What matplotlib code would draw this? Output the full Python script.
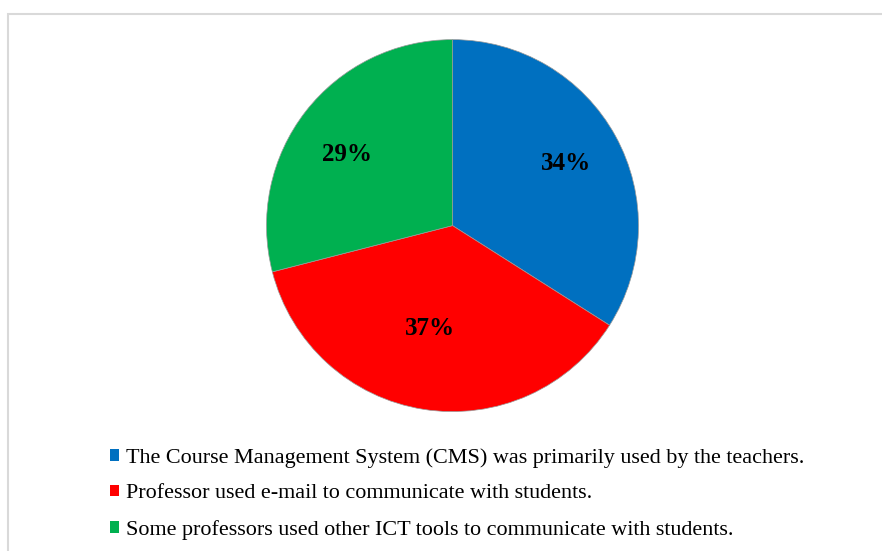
import numpy as np
import matplotlib
matplotlib.use("Agg")
import matplotlib.pyplot as plt
from matplotlib.patches import Rectangle

labels = [
    "The Course Management System (CMS) was primarily used by the teachers.",
    "Professor used e-mail to communicate with students.",
    "Some professors used other ICT tools to communicate with students.",
]
shares = [34, 37, 29]
colors = ["#0070C0", "#FF0000", "#00B050"]

# where each percent label sits: (fraction of radius, angle in degrees)
label_r = [0.70, 0.553, 0.692]
label_ang = [29.6, -102.6, 145.3]

plt.rcParams["font.family"] = ["Liberation Serif", "DejaVu Serif"]

fig = plt.figure(figsize=(8.82, 5.51), dpi=100)

# light grey chart border (cropped on right and bottom)
fig.patches.append(Rectangle((8 / 882, -0.1), 1.2, (551 - 14) / 551 + 0.1,
                             transform=fig.transFigure, fill=False,
                             edgecolor="#d9d9d9", linewidth=1.5))

ax = fig.add_axes([(452.5 - 186) / 882, (551 - 411.6) / 551, 372 / 882, 372 / 551])
wedges, _ = ax.pie(shares, colors=colors, startangle=90, counterclock=False,
                   radius=1.0,
                   wedgeprops=dict(edgecolor="#9a9a9a", linewidth=0.5))
ax.set_xlim(-1, 1)
ax.set_ylim(-1, 1)
ax.set_aspect("equal")
ax.axis("off")

for s, r, a in zip(shares, label_r, label_ang):
    t = np.deg2rad(a)
    ax.text(r * np.cos(t), r * np.sin(t) - 0.012, f"{s}%", ha="center", va="center",
            fontsize=18, fontweight="bold", color="black")

handles = [plt.Rectangle((0, 0), 1, 1, facecolor=c) for c in colors]
fig.legend(handles, labels, loc="upper left", bbox_to_anchor=(99 / 882, 1 - 437 / 551),
           frameon=False, fontsize=15.9, handlelength=0.42, handleheight=0.42,
           handletextpad=0.3, labelspacing=0.75, borderpad=0)

fig.savefig("out.png", dpi=100)
